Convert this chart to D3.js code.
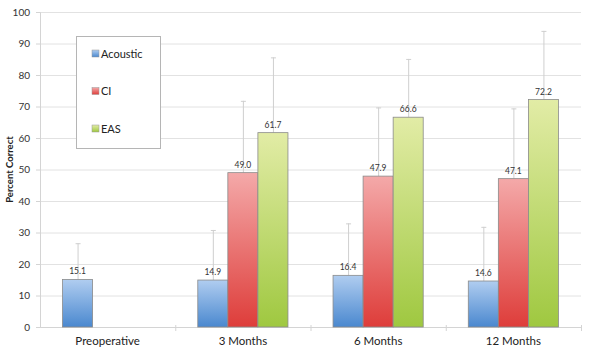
<!DOCTYPE html>
<html>
<head>
<meta charset="utf-8">
<script src="https://cdn.jsdelivr.net/npm/d3@7"></script>
<style>
  body { margin: 0; background: #fff; }
  text { font-family: Lato, "Open Sans", sans-serif; }
</style>
</head>
<body>
<div id="chart"></div>
<script>
var svgWidth = 595;
var svgHeight = 358;

var margin = { top: 12, right: 14, bottom: 31, left: 40 };
var width = svgWidth - margin.left - margin.right;
var height = svgHeight - margin.top - margin.bottom;

// data
var categories = ["Preoperative", "3 Months", "6 Months", "12 Months"];
var seriesNames = ["Acoustic", "CI", "EAS"];
var acoustic = [15.1, 14.9, 16.4, 14.6];
var ci = [null, 49.0, 47.9, 47.1];
var eas = [null, 61.7, 66.6, 72.2];
var acousticErr = [11.5, 15.9, 16.5, 17.2];
var ciErr = [null, 22.8, 21.8, 22.3];
var easErr = [null, 23.9, 18.5, 21.8];
var yTicks = [0, 10, 20, 30, 40, 50, 60, 70, 80, 90, 100];

var colors = {
  Acoustic: ["#b0cdf0", "#4a88cf"],
  CI: ["#f4a9a9", "#de3d3a"],
  EAS: ["#e2eca6", "#9fc840"]
};

var values = [acoustic, ci, eas];
var errs = [acousticErr, ciErr, easErr];

var bars = [];
categories.forEach(function(c, i) {
  seriesNames.forEach(function(s, j) {
    if (values[j][i] != null) {
      bars.push({ cat: c, series: s, value: values[j][i], err: errs[j][i] });
    }
  });
});

var svg = d3.select("#chart")
  .append("svg")
  .attr("width", svgWidth)
  .attr("height", svgHeight);

// gradients
var defs = svg.append("defs");
seriesNames.forEach(function(s) {
  var g = defs.append("linearGradient")
    .attr("id", "grad-" + s)
    .attr("x1", 0).attr("y1", 0).attr("x2", 0).attr("y2", 1);
  g.append("stop").attr("offset", "0%").attr("stop-color", colors[s][0]);
  g.append("stop").attr("offset", "100%").attr("stop-color", colors[s][1]);
});

var chartGroup = svg.append("g")
  .attr("transform", `translate(${margin.left}, ${margin.top})`);

var x0 = d3.scaleBand()
  .domain(categories)
  .range([0, width])
  .paddingInner(0)
  .paddingOuter(0);

var x1 = d3.scaleBand()
  .domain(seriesNames)
  .range([0, x0.bandwidth()])
  .paddingOuter(0.75)
  .paddingInner(0);

var y = d3.scaleLinear()
  .domain([0, 100])
  .range([height, 0]);

// gridlines
chartGroup.append("g")
  .selectAll("line")
  .data(yTicks)
  .enter()
  .append("line")
  .attr("x1", 0)
  .attr("x2", width)
  .attr("y1", d => y(d) + 0.5)
  .attr("y2", d => y(d) + 0.5)
  .attr("stroke", "#e2e2e2");

// y axis
var leftAxis = d3.axisLeft(y).tickValues(yTicks).tickSize(4).tickPadding(6);
var yAxis = chartGroup.append("g").call(leftAxis);
yAxis.select(".domain").attr("stroke", "#d4d4d4");
yAxis.selectAll(".tick line").attr("stroke", "#d4d4d4");
yAxis.selectAll(".tick text")
  .attr("fill", "#333")
  .style("font-size", "10px");

// x axis
var bottomAxis = d3.axisBottom(x0).tickSize(0).tickPadding(10);
var xAxis = chartGroup.append("g")
  .attr("transform", `translate(0, ${height})`)
  .call(bottomAxis);
xAxis.select(".domain").attr("stroke", "#d4d4d4");
xAxis.selectAll(".tick text")
  .attr("fill", "#222")
  .style("font-size", "11.5px");

// category separators
chartGroup.append("g")
  .selectAll("line")
  .data(categories.slice(1).concat(["end"]))
  .enter()
  .append("line")
  .attr("x1", (d, i) => x0.step() * (i + 1) + 0.5)
  .attr("x2", (d, i) => x0.step() * (i + 1) + 0.5)
  .attr("y1", height - 2)
  .attr("y2", height + 4)
  .attr("stroke", "#d4d4d4");

// error bars (upper only)
var errGroup = chartGroup.append("g");
bars.forEach(function(d) {
  var cx = x0(d.cat) + x1(d.series) + x1.bandwidth() / 2 + 0.5;
  errGroup.append("line")
    .attr("x1", cx).attr("x2", cx)
    .attr("y1", y(d.value)).attr("y2", y(d.value + d.err))
    .attr("stroke", "#cfcfcf");
  errGroup.append("line")
    .attr("x1", cx - 2.5).attr("x2", cx + 2.5)
    .attr("y1", y(d.value + d.err) + 0.5).attr("y2", y(d.value + d.err) + 0.5)
    .attr("stroke", "#cfcfcf");
});

// bars
chartGroup.append("g")
  .selectAll("rect")
  .data(bars)
  .enter()
  .append("rect")
  .attr("x", d => x0(d.cat) + x1(d.series))
  .attr("y", d => y(d.value))
  .attr("width", x1.bandwidth())
  .attr("height", d => height - y(d.value))
  .attr("fill", d => "url(#grad-" + d.series + ")")
  .attr("stroke", "#8a8a8a")
  .attr("stroke-width", 0.8);

// value labels
chartGroup.append("g")
  .selectAll("text")
  .data(bars)
  .enter()
  .append("text")
  .attr("x", d => x0(d.cat) + x1(d.series) + x1.bandwidth() / 2)
  .attr("y", d => y(d.value) - 5)
  .attr("text-anchor", "middle")
  .attr("fill", "#333")
  .style("font-size", "8.5px")
  .text(d => d.value.toFixed(1));

// y axis label
chartGroup.append("text")
  .attr("transform", "rotate(-90)")
  .attr("x", 0 - height / 2)
  .attr("y", 0 - margin.left + 13)
  .attr("text-anchor", "middle")
  .attr("fill", "#222")
  .style("font-size", "9.5px")
  .style("font-weight", "bold")
  .text("Percent Correct");

// legend
var legend = svg.append("g").attr("transform", "translate(76, 36)");
legend.append("rect")
  .attr("x", 0.5).attr("y", 0.5)
  .attr("width", 84).attr("height", 112)
  .attr("fill", "#fff")
  .attr("stroke", "#b5b5b5");

var legendItems = legend.selectAll("g.item")
  .data(seriesNames)
  .enter()
  .append("g")
  .attr("class", "item")
  .attr("transform", (d, i) => `translate(16, ${20 + i * 37.5})`);

legendItems.append("rect")
  .attr("x", 0).attr("y", -6)
  .attr("width", 7).attr("height", 7)
  .attr("fill", d => "url(#grad-" + d + ")")
  .attr("stroke", "#999")
  .attr("stroke-width", 0.5);

legendItems.append("text")
  .attr("x", 9)
  .attr("y", 1.5)
  .attr("fill", "#222")
  .style("font-size", "11px")
  .text(d => d);
</script>
</body>
</html>
